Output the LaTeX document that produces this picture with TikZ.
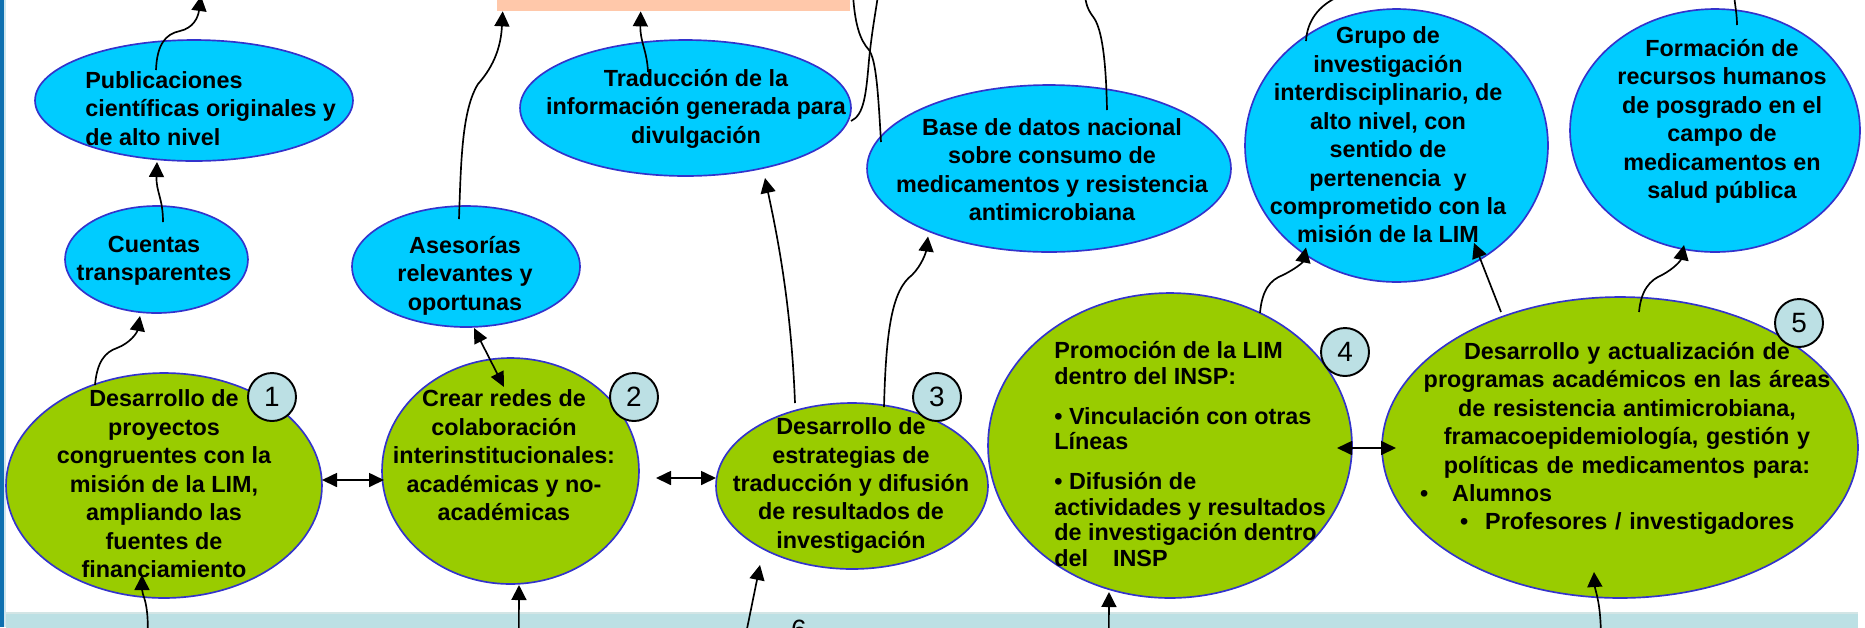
\documentclass[tikz,border=0pt]{standalone}
\usepackage{fontspec}
\setmainfont{Liberation Sans}
\usetikzlibrary{arrows.meta,calc,shapes.geometric}
\definecolor{cyanfill}{HTML}{00CCFF}
\definecolor{greenfill}{HTML}{99CC00}
\definecolor{edgeblue}{HTML}{3333CC}
\definecolor{badgefill}{HTML}{BCE0E4}
\definecolor{peach}{HTML}{FFC8AA}
\definecolor{barblue}{HTML}{0E70B0}
\definecolor{barlight}{HTML}{D0E6EE}
\definecolor{stripfill}{HTML}{BCE0E4}
\definecolor{stripedge}{HTML}{D3E5E5}
\begin{document}
\begin{tikzpicture}[x=0.02cm,y=-0.02cm,
  blueell/.style={ellipse, draw=edgeblue, fill=cyanfill, line width=0.95pt, inner sep=0pt},
  greenell/.style={ellipse, draw=edgeblue, fill=greenfill, line width=0.95pt, inner sep=0pt},
  txt/.style={font=\fontsize{13.3pt}{16.2pt}\selectfont\bfseries, align=center, inner sep=0pt},
  badge/.style={circle, draw=black, fill=badgefill, line width=1.1pt, minimum size=0.96cm, inner sep=0pt, font=\fontsize{15.9pt}{18pt}\selectfont},
  arr/.style={line width=0.95pt, -{Triangle[length=0.3cm,width=0.3cm]}},
  dbl/.style={line width=0.95pt, {Triangle[length=0.3cm,width=0.28cm]}-{Triangle[length=0.3cm,width=0.28cm]}},
  ln/.style={line width=0.95pt}
]
\useasboundingbox (0,0) rectangle (1865,627);
\clip (0,0) rectangle (1865,627);
\fill[white] (0,0) rectangle (1865,627);
\fill[barblue] (0,0) rectangle (4,627);
\fill[barlight] (4,0) rectangle (6,627);

% bottom strip and top peach box
\node[rectangle, fill=stripfill, inner sep=0pt, minimum width=37.04cm, minimum height=0.54cm] (strip) at (932,626.5) {};
\draw[stripedge, line width=1.1pt] (strip.north west) -- (strip.north east);
\node[rectangle, fill=peach, inner sep=0pt, minimum width=7.06cm, minimum height=1.22cm] (pch) at (673.5,-19.5) {};

% blue ellipses
\node[blueell, minimum width=6.36cm, minimum height=2.42cm] (pub) at (194,100.5) {};
\node[blueell, minimum width=3.66cm, minimum height=2.14cm] (cue) at (156.5,259.5) {};
\node[blueell, minimum width=4.56cm, minimum height=2.42cm] (ase) at (466,266.5) {};
\node[blueell, minimum width=6.62cm, minimum height=2.72cm] (tra) at (685.5,108) {};
\node[blueell, minimum width=7.28cm, minimum height=3.34cm] (bas) at (1049,168.5) {};
\node[blueell, minimum width=6.06cm, minimum height=5.46cm] (gru) at (1396.5,145.5) {};
\node[blueell, minimum width=5.8cm, minimum height=4.86cm] (fmn) at (1715,130.5) {};

% green ellipses
\node[greenell, minimum width=6.32cm, minimum height=4.5cm] (g1) at (164,485.5) {};
\node[greenell, minimum width=5.14cm, minimum height=4.52cm] (g2) at (510.5,471) {};
\node[greenell, minimum width=5.44cm, minimum height=3.32cm] (g3) at (852,486) {};
\node[greenell, minimum width=7.28cm, minimum height=6.1cm] (g4) at (1170,445.5) {};
\node[greenell, minimum width=9.52cm, minimum height=6.02cm] (g5) at (1620,447.5) {};

% texts
\node[txt, align=left, anchor=west] (pubT) at (85,108.5) {Publicaciones\\científicas originales y\\de alto nivel};
\node[txt] (cueT) at (154,261) {Cuentas\\transparentes};
\node[txt] (aseT) at (465,275.5) {Asesorías\\relevantes y\\oportunas};
\node[txt] (traT) at (696,108.5) {Traducción de la\\información generada para\\divulgación};
\node[txt] (basT) at (1052,169.5) {Base de datos nacional\\sobre consumo de\\medicamentos y resistencia\\antimicrobiana};
\node[txt] (gruT) at (1388,135) {Grupo de\\investigación\\interdisciplinario, de\\alto nivel, con\\sentido de\\pertenencia~~y\\comprometido con la\\misión de la LIM};
\node[txt] (fmnT) at (1722,121.5) {Formación de\\recursos humanos\\de posgrado en el\\campo de\\medicamentos en\\salud pública};
\node[txt] (g1T) at (164,484) {Desarrollo de\\proyectos\\congruentes con la\\misión de la LIM,\\ampliando las\\fuentes de\\financiamiento};
\node[txt] (g2T) at (504,455.5) {Crear redes de\\colaboración\\interinstitucionales:\\académicas y no-\\académicas};
\node[txt] (g3T) at (851,485.5) {Desarrollo de\\estrategias de\\traducción y difusión\\de resultados de\\investigación};
\node[txt, font=\fontsize{13.3pt}{14.5pt}\selectfont\bfseries, align=left, anchor=west] (g4T) at (1054,454) {Promoción de la LIM\\dentro del INSP:\\[0.3cm]• Vinculación con otras\\Líneas\\[0.29cm]• Difusión de\\actividades y resultados\\de investigación dentro\\del\hspace{0.5cm}INSP};
\node[txt, text width=8.4cm] (g5T) at (1627,438.5) {Desarrollo y actualización de\\programas académicos en las áreas\\de resistencia antimicrobiana,\\framacoepidemiología, gestión y\\políticas de medicamentos para:\\\makebox[8.4cm][l]{\hspace{0.06cm}•\hspace{0.48cm}Alumnos}\\\makebox[8.4cm][l]{\hspace{0.86cm}•\hspace{0.34cm}Profesores / investigadores}};

% badges
\node[badge] (b1) at (272,397) {1};
\node[badge] (b2) at (634,397) {2};
\node[badge] (b3) at (937,397) {3};
\node[badge] (b4) at (1345,352) {4};
\node[badge] (b5) at (1799,323) {5};
\node[font=\fontsize{15.9pt}{18pt}\selectfont, anchor=north, inner sep=0pt] (six) at (799,620) {6};

% off-canvas end points
\coordinate (topA) at (201,-4);
\coordinate (offA) at (853,-5);
\coordinate (offB) at (878,-5);
\coordinate (offC) at (1085,-5);
\coordinate (offD) at (1340,-4);
\coordinate (offE) at (1734,-5);

% connectors
\draw[arr] ($(pub)+(-38,-30.5)$) .. controls (157,45) and (165,34) .. (180,31) .. controls (193,28) and (198,18) .. (topA);
\draw[arr] ($(cue)+(6.5,-37.5)$) .. controls (163,198) and (156,192) .. ($(pub)+(-37,61.5)$);
\draw[arr] ($(ase)+(-7,-47.5)$) .. controls (461,160) and (462,110) .. (478,84) .. controls (495,65) and (501,45) .. ($(pch.south west)+(6,0)$);
\draw[arr] ($(tra)+(-37.5,-36)$) .. controls (647,50) and (640,42) .. ($(pch.south west)+(144,0)$);
\draw[ln] ($(tra)+(165.5,13)$) .. controls (864,115) and (866,95) .. (869,60) .. controls (872,30) and (876,10) .. (offB);
\draw[ln] ($(bas)+(-168,-26.5)$) .. controls (878,90) and (876,60) .. (869,50) .. controls (860,40) and (855,25) .. (offA);
\draw[ln] ($(bas)+(58,-58.5)$) .. controls (1106,60) and (1102,30) .. (1094,18) .. controls (1088,10) and (1086,5) .. (offC);
\draw[arr] ($(g3)+(-57,-83)$) .. controls (791,300) and (776,230) .. ($(tra)+(79.5,70)$);
\draw[arr] ($(g3)+(32,-79)$) .. controls (886,330) and (892,290) .. (912,275) .. controls (922,265) and (926,252) .. ($(bas)+(-121,68)$);
\draw[arr] ($(g4)+(90,-132.5)$) .. controls (1262,290) and (1270,280) .. (1283,275) .. controls (1297,268) and (1303,262) .. ($(gru)+(-90.5,102)$);
\draw[arr] ($(g5)+(-119,-135.5)$) -- ($(gru)+(77.5,97.5)$);
\draw[arr] ($(g5)+(19,-135.5)$) .. controls (1641,290) and (1650,280) .. (1662,275) .. controls (1675,268) and (1681,260) .. ($(fmn)+(-31,114.5)$);
\draw[ln] ($(fmn)+(22,-105.5)$) .. controls (1737,15) and (1735,5) .. (offE);
\draw[ln] ($(gru)+(-90.5,-104.5)$) .. controls (1307,22) and (1318,5) .. (offD);
\draw[arr] ($(g1)+(-69,-100.5)$) .. controls (97,362) and (105,352) .. (117,348) .. controls (130,343) and (137,333) .. ($(cue)+(-16.5,56.5)$);
\draw[dbl] ($(g1)+(158,-5.5)$) -- ($(g2)+(-126.5,9)$);
\draw[dbl] ($(ase)+(8,61.5)$) -- ($(g2)+(-6.5,-84)$);
\draw[dbl] ($(g2)+(145.5,7)$) -- ($(g3)+(-136,-8)$);
\draw[dbl] ($(g4)+(167,2.5)$) -- ($(g5)+(-224,0.5)$);
\draw[arr] ($(strip.north west)+(142,17)$) .. controls (148,600) and (142,595) .. ($(g1)+(-22,89.5)$);
\draw[arr] ($(strip.north west)+(513,17)$) -- ($(g2)+(8.5,114)$);
\draw[arr] ($(strip.north west)+(741,17)$) -- ($(g3)+(-92,79)$);
\draw[arr] ($(strip.north west)+(1103,17)$) -- ($(g4)+(-61,146.5)$);
\draw[arr] ($(strip.north west)+(1595,17)$) .. controls (1600,600) and (1595,590) .. ($(g5)+(-26,124.5)$);
\end{tikzpicture}
\end{document}
